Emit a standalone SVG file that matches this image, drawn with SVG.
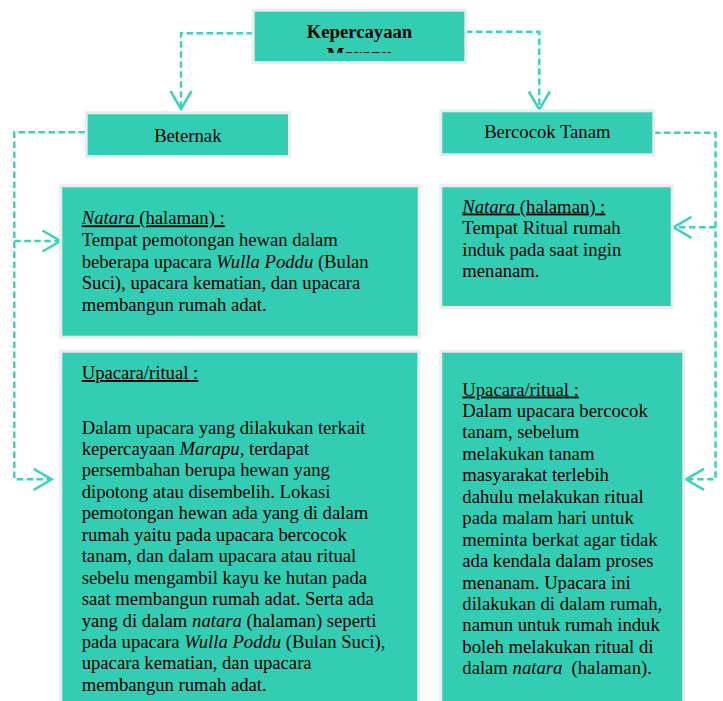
<svg xmlns="http://www.w3.org/2000/svg" width="723" height="701" viewBox="0 0 723 701">
<defs>
<style>
.box{fill:#33cdb4;stroke:#ececec;stroke-width:3}
.t{font-family:"Liberation Serif","Times New Roman",serif;font-size:18.67px;fill:#000}
.b{font-weight:bold}
.u{text-decoration:underline}
.i{font-style:italic}
.c{fill:none;stroke:#3dd2b9;stroke-width:2.5;stroke-dasharray:6.5 3.5}
</style>
<marker id="arr" markerUnits="userSpaceOnUse" viewBox="-21 -13 23 26" markerWidth="23" markerHeight="26" refX="0" refY="0" orient="auto" overflow="visible">
<path d="M-18,-10.5 L0,0 L-18,10.5" fill="none" stroke="#3dd2b9" stroke-width="2.5"/>
</marker>
<clipPath id="titleClip"><rect x="254" y="11" width="211" height="42"/></clipPath>
</defs>
<g id="connectors">
<path class="c" d="M253,33.3 H181 V109" marker-end="url(#arr)"/>
<path class="c" d="M466,31.7 H539.3 V109.5" marker-end="url(#arr)"/>
<path class="c" d="M85,132.3 H14.3 V479.3 H51.7" marker-end="url(#arr)"/>
<path class="c" d="M14.3,241 H60.5" marker-end="url(#arr)"/>
<path class="c" d="M654,132.7 H715.5 V479.3 H686" marker-end="url(#arr)"/>
<path class="c" d="M715.5,227.3 H673.5" marker-end="url(#arr)"/>
</g>
<g id="kepercayaan">
<rect class="box" x="253.2" y="10.2" width="212.6" height="52.3"/>
<g clip-path="url(#titleClip)">
<text class="t b" x="359.5" y="37.7" text-anchor="middle">Kepercayaan</text>
<text class="t b" x="359.5" y="61" text-anchor="middle">Marapu</text>
</g>
</g>
<g id="beternak">
<rect class="box" x="86.2" y="112.8" width="203.3" height="43.7"/>
<text class="t" x="187.8" y="141.7" text-anchor="middle">Beternak</text>
</g>
<g id="bercocok">
<rect class="box" x="440.8" y="110.8" width="213" height="44"/>
<text class="t" x="547.3" y="138.3" text-anchor="middle">Bercocok Tanam</text>
</g>
<g id="natara-kiri">
<rect class="box" x="60.8" y="185.8" width="358.4" height="151.4"/>
<text class="t" x="81.7" y="224.3"><tspan class="u"><tspan class="i">Natara</tspan> (halaman) :</tspan></text>
<text class="t" x="81.7" y="246">Tempat pemotongan hewan dalam</text>
<text class="t" x="81.7" y="267.6">beberapa upacara <tspan class="i">Wulla Poddu</tspan> (Bulan</text>
<text class="t" x="81.7" y="289.2">Suci), upacara kematian, dan upacara</text>
<text class="t" x="81.7" y="310.8">membangun rumah adat.</text>
</g>
<g id="natara-kanan">
<rect class="box" x="440.8" y="185.8" width="231.4" height="121.7"/>
<text class="t" x="462.3" y="212.5"><tspan class="u"><tspan class="i">Natara</tspan> (halaman) :</tspan></text>
<text class="t" x="462.3" y="234.1">Tempat Ritual rumah</text>
<text class="t" x="462.3" y="255.7">induk pada saat ingin</text>
<text class="t" x="462.3" y="277.3">menanam.</text>
</g>
<g id="upacara-kiri">
<rect class="box" x="60.8" y="351.2" width="358" height="360"/>
<text class="t" x="81.7" y="379"><tspan class="u">Upacara/ritual :</tspan></text>
<text class="t" x="81.7" y="433.5">Dalam upacara yang dilakukan terkait</text>
<text class="t" x="81.7" y="454.95">kepercayaan <tspan class="i">Marapu,</tspan> terdapat</text>
<text class="t" x="81.7" y="476.4">persembahan berupa hewan yang</text>
<text class="t" x="81.7" y="497.85">dipotong atau disembelih. Lokasi</text>
<text class="t" x="81.7" y="519.3">pemotongan hewan ada yang di dalam</text>
<text class="t" x="81.7" y="540.75">rumah yaitu pada upacara bercocok</text>
<text class="t" x="81.7" y="562.2">tanam, dan dalam upacara atau ritual</text>
<text class="t" x="81.7" y="583.65">sebelu mengambil kayu ke hutan pada</text>
<text class="t" x="81.7" y="605.1">saat membangun rumah adat. Serta ada</text>
<text class="t" x="81.7" y="626.55">yang di dalam <tspan class="i">natara</tspan> (halaman) seperti</text>
<text class="t" x="81.7" y="648">pada upacara <tspan class="i">Wulla Poddu</tspan> (Bulan Suci),</text>
<text class="t" x="81.7" y="669.45">upacara kematian, dan upacara</text>
<text class="t" x="81.7" y="690.9">membangun rumah adat.</text>
</g>
<g id="upacara-kanan">
<rect class="box" x="440.8" y="351.2" width="243" height="360"/>
<text class="t" x="462.3" y="395.5"><tspan class="u">Upacara/ritual :</tspan></text>
<text class="t" x="462.3" y="416.95">Dalam upacara bercocok</text>
<text class="t" x="462.3" y="438.4">tanam, sebelum</text>
<text class="t" x="462.3" y="459.85">melakukan tanam</text>
<text class="t" x="462.3" y="481.3">masyarakat terlebih</text>
<text class="t" x="462.3" y="502.75">dahulu melakukan ritual</text>
<text class="t" x="462.3" y="524.2">pada malam hari untuk</text>
<text class="t" x="462.3" y="545.65">meminta berkat agar tidak</text>
<text class="t" x="462.3" y="567.1">ada kendala dalam proses</text>
<text class="t" x="462.3" y="588.55">menanam. Upacara ini</text>
<text class="t" x="462.3" y="610">dilakukan di dalam rumah,</text>
<text class="t" x="462.3" y="631.45">namun untuk rumah induk</text>
<text class="t" x="462.3" y="652.9">boleh melakukan ritual di</text>
<text class="t" x="462.3" y="674.35">dalam <tspan class="i">natara</tspan><tspan dx="4.6"> (halaman).</tspan></text>
</g>
</svg>
